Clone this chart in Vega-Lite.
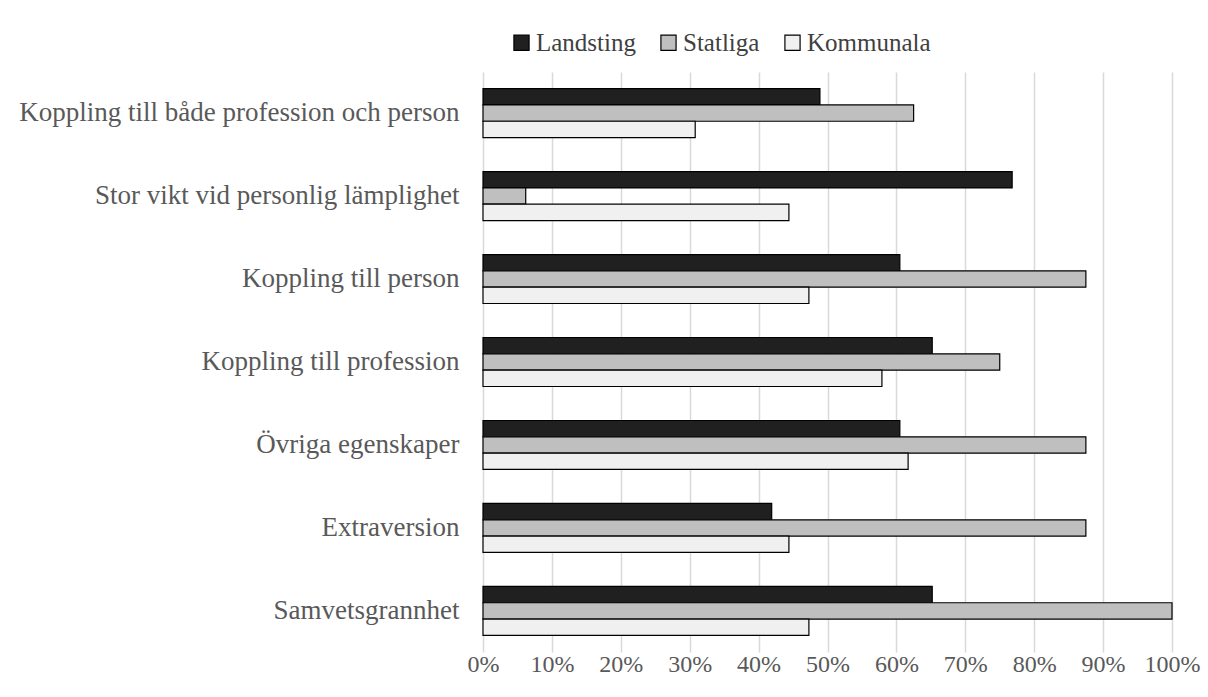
{
  "$schema": "https://vega.github.io/schema/vega-lite/v6.json",
  "width": 689,
  "height": 580,
  "autosize": {"type": "none"},
  "padding": {"left": 483, "top": 72, "right": 36, "bottom": 45},
  "background": "white",
  "config": {
    "view": {"stroke": null},
    "font": "Liberation Serif",
    "axis": {"labelFont": "Liberation Serif"},
    "legend": {"labelFont": "Liberation Serif"}
  },
  "data": {
    "values": [
      {"kategori": "Koppling till både profession och person", "grupp": "Landsting", "varde": 0.489},
      {"kategori": "Koppling till både profession och person", "grupp": "Statliga", "varde": 0.625},
      {"kategori": "Koppling till både profession och person", "grupp": "Kommunala", "varde": 0.308},
      {"kategori": "Stor vikt vid personlig lämplighet", "grupp": "Landsting", "varde": 0.768},
      {"kategori": "Stor vikt vid personlig lämplighet", "grupp": "Statliga", "varde": 0.062},
      {"kategori": "Stor vikt vid personlig lämplighet", "grupp": "Kommunala", "varde": 0.444},
      {"kategori": "Koppling till person", "grupp": "Landsting", "varde": 0.605},
      {"kategori": "Koppling till person", "grupp": "Statliga", "varde": 0.875},
      {"kategori": "Koppling till person", "grupp": "Kommunala", "varde": 0.473},
      {"kategori": "Koppling till profession", "grupp": "Landsting", "varde": 0.652},
      {"kategori": "Koppling till profession", "grupp": "Statliga", "varde": 0.75},
      {"kategori": "Koppling till profession", "grupp": "Kommunala", "varde": 0.579},
      {"kategori": "Övriga egenskaper ", "grupp": "Landsting", "varde": 0.605},
      {"kategori": "Övriga egenskaper ", "grupp": "Statliga", "varde": 0.875},
      {"kategori": "Övriga egenskaper ", "grupp": "Kommunala", "varde": 0.617},
      {"kategori": "Extraversion ", "grupp": "Landsting", "varde": 0.419},
      {"kategori": "Extraversion ", "grupp": "Statliga", "varde": 0.875},
      {"kategori": "Extraversion ", "grupp": "Kommunala", "varde": 0.444},
      {"kategori": "Samvetsgrannhet", "grupp": "Landsting", "varde": 0.652},
      {"kategori": "Samvetsgrannhet", "grupp": "Statliga", "varde": 1.0},
      {"kategori": "Samvetsgrannhet", "grupp": "Kommunala", "varde": 0.473}
    ]
  },
  "mark": {"type": "bar", "stroke": "black", "strokeWidth": 1.2},
  "encoding": {
    "y": {
      "field": "kategori",
      "type": "nominal",
      "sort": null,
      "scale": {"paddingInner": 0.41, "paddingOuter": 0.2},
      "axis": {
        "title": null,
        "ticks": false,
        "domain": false,
        "labelFont": "Liberation Serif",
        "labelFontSize": 27,
        "labelColor": "#595959",
        "labelPadding": 24,
        "labelLimit": 600
      }
    },
    "yOffset": {
      "field": "grupp",
      "type": "nominal",
      "sort": ["Landsting", "Statliga", "Kommunala"],
      "scale": {"paddingInner": 0, "paddingOuter": 0}
    },
    "x": {
      "field": "varde",
      "type": "quantitative",
      "scale": {"domain": [0, 1], "nice": false},
      "axis": {
        "title": null,
        "format": "%",
        "values": [0, 0.1, 0.2, 0.3, 0.4, 0.5, 0.6, 0.7, 0.8, 0.9, 1.0],
        "ticks": false,
        "domain": false,
        "grid": true,
        "gridColor": "#d9d9d9",
        "gridWidth": 1.5,
        "labelFont": "Liberation Serif",
        "labelFontSize": 24,
        "labelColor": "#595959",
        "labelPadding": 0,
        "labelFlush": false
      }
    },
    "color": {
      "field": "grupp",
      "type": "nominal",
      "sort": ["Landsting", "Statliga", "Kommunala"],
      "scale": {"domain": ["Landsting", "Statliga", "Kommunala"], "range": ["#202020", "#bfbfbf", "#f0f0f0"]},
      "legend": {
        "title": null,
        "orient": "none",
        "direction": "horizontal",
        "legendX": 26,
        "legendY": -42,
        "symbolType": "square",
        "symbolSize": 230,
        "symbolStrokeColor": "black",
        "symbolStrokeWidth": 1.2,
        "symbolOpacity": 1,
        "labelFont": "Liberation Serif",
        "labelFontSize": 25,
        "labelColor": "#404040",
        "labelOffset": 2,
        "columnPadding": 20
      }
    }
  }
}
